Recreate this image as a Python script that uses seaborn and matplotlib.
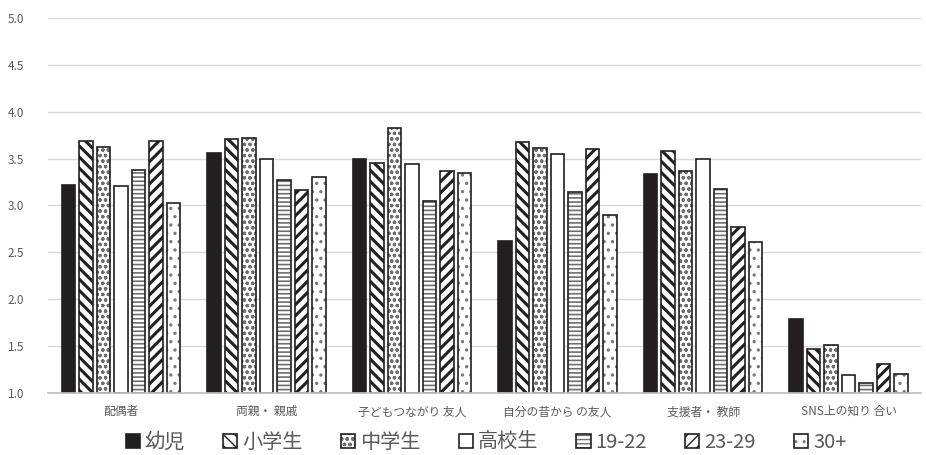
import matplotlib
matplotlib.use("Agg")
import matplotlib.pyplot as plt
import seaborn as sns
import pandas as pd
from matplotlib.patches import Patch
from matplotlib.colors import to_rgba

categories = ["配偶者", "両親・ 親戚", "子どもつながり 友人", "自分の昔から の友人", "支援者・ 教師", "SNS上の知り 合い"]
groups = ["幼児", "小学生", "中学生", "高校生", "19-22", "23-29", "30+"]
values = {
    "幼児":   [3.22, 3.56, 3.50, 2.62, 3.34, 1.79],
    "小学生": [3.69, 3.71, 3.45, 3.68, 3.58, 1.47],
    "中学生": [3.62, 3.72, 3.83, 3.61, 3.37, 1.51],
    "高校生": [3.21, 3.50, 3.44, 3.55, 3.50, 1.19],
    "19-22":  [3.38, 3.27, 3.05, 3.14, 3.18, 1.10],
    "23-29":  [3.69, 3.16, 3.37, 3.60, 2.77, 1.31],
    "30+":    [3.03, 3.30, 3.35, 2.90, 2.61, 1.20],
}
y_ticks = [1.0, 1.5, 2.0, 2.5, 3.0, 3.5, 4.0, 4.5, 5.0]

rows = []
for g in groups:
    for c, v in zip(categories, values[g]):
        rows.append({"category": c, "group": g, "value": v})
df = pd.DataFrame(rows)

sns.set_theme(style="white")
plt.rcParams['font.family'] = ['Noto Sans CJK JP', 'DejaVu Sans']

fills = ['#231f20', 'white', 'white', 'white', 'white', 'white', 'white']
hatches = [None, '\\\\\\', 'ooo', None, '----', '///', '..']
hlw = [1, 2.2, 0.9, 1, 1.2, 2.2, 1.2]
hcol = ['#231f20', '#231f20', '#6e6e6e', '#231f20', '#6e6e6e', '#231f20', '#7a7a7a']

fig = plt.figure(figsize=(9.26, 4.55), dpi=100)
ax = fig.add_axes([0.052, 0.137, 0.943, 0.823])

sns.barplot(data=df, x="category", y="value", hue="group", hue_order=groups,
            order=categories, ax=ax, width=0.84, gap=0.22, legend=False,
            palette=['white'] * 7, edgecolor='#231f20', linewidth=1.2)


def style_patch(p, i):
    p.set_facecolor(fills[i])
    p.set_edgecolor('#231f20')
    if hatches[i]:
        p.set_hatch(hatches[i])
        try:
            p.set_hatch_linewidth(hlw[i])
        except Exception:
            pass
        p._hatch_color = to_rgba(hcol[i])


for i, cont in enumerate(ax.containers):
    for p in cont:
        style_patch(p, i)
        y0 = p.get_y()
        h = p.get_height()
        p.set_y(1.0)
        p.set_height(y0 + h - 1.0)

ax.set_ylim(1.0, 5.0)
ax.set_yticks(y_ticks)
ax.set_yticklabels([f"{t:.1f}" for t in y_ticks])
ax.set_xlim(-0.5, len(categories) - 0.5)
ax.yaxis.grid(True, color='#d9d9d9', linewidth=1)
ax.set_axisbelow(True)
for s in ['left', 'right', 'top']:
    ax.spines[s].set_visible(False)
ax.spines['bottom'].set_color('#bfbfbf')
ax.tick_params(axis='both', length=0, colors='#595959', labelsize=8.5)
ax.tick_params(axis='x', pad=9)
ax.tick_params(axis='y', pad=29)
for lab in ax.get_yticklabels():
    lab.set_horizontalalignment('left')
ax.set_xlabel("")
ax.set_ylabel("")

handles = []
for i, g in enumerate(groups):
    ph = Patch(facecolor=fills[i], edgecolor='#231f20', hatch=hatches[i], label=g, linewidth=1.2)
    if hatches[i]:
        ph._hatch_color = to_rgba(hcol[i])
    handles.append(ph)
leg = fig.legend(handles=handles, loc='lower center', bbox_to_anchor=(0.525, 0.0), ncol=7,
                 frameon=False, fontsize=14.5, handlelength=0.7, handleheight=0.7,
                 handletextpad=0.25, columnspacing=1.9, labelcolor='#595959',
                 borderpad=0.1, borderaxespad=0.0)

fig.savefig("out.png", dpi=100)
